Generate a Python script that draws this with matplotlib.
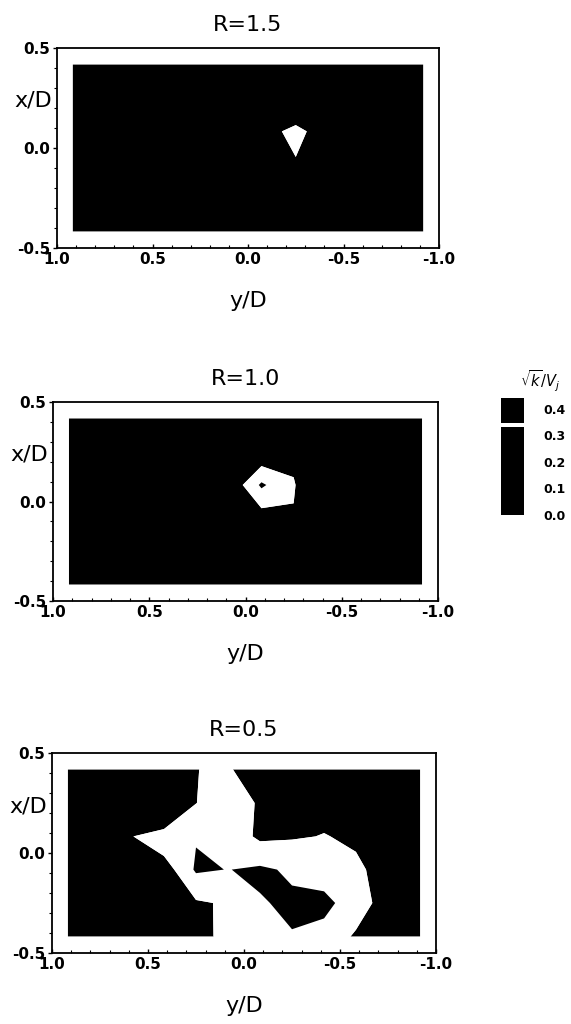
import matplotlib
matplotlib.use("Agg")
import matplotlib.pyplot as plt
from matplotlib.ticker import MultipleLocator, FormatStrFormatter

plt.rcParams["font.family"] = ["DejaVu Sans"]
plt.rcParams["axes.unicode_minus"] = False

# Measurement grid: spanwise stations y/D (columns) and streamwise stations x/D (rows)
y_nodes = [0.917, 0.75, 0.583, 0.417, 0.25, 0.083, -0.083, -0.25, -0.417, -0.583, -0.75, -0.917]
x_nodes = [0.417, 0.25, 0.083, -0.083, -0.25, -0.417]

# sqrt(k)/Vj at each station, rows follow x_nodes, columns follow y_nodes
k_r15 = [
    [0.30, 0.30, 0.30, 0.30, 0.30, 0.30, 0.30, 0.30, 0.30, 0.30, 0.30, 0.30],
    [0.30, 0.30, 0.30, 0.30, 0.30, 0.30, 0.30, 0.287, 0.30, 0.30, 0.30, 0.30],
    [0.30, 0.30, 0.30, 0.30, 0.30, 0.30, 0.317, 0.34, 0.311, 0.30, 0.30, 0.30],
    [0.30, 0.30, 0.30, 0.30, 0.30, 0.30, 0.30, 0.327, 0.30, 0.30, 0.30, 0.30],
    [0.30, 0.30, 0.30, 0.30, 0.30, 0.30, 0.30, 0.30, 0.30, 0.30, 0.30, 0.30],
    [0.30, 0.30, 0.30, 0.30, 0.30, 0.30, 0.30, 0.30, 0.30, 0.30, 0.30, 0.30],
]
k_r10 = [
    [0.30, 0.30, 0.30, 0.30, 0.30, 0.30, 0.30, 0.30, 0.30, 0.30, 0.30, 0.30],
    [0.30, 0.30, 0.30, 0.30, 0.30, 0.30, 0.3167, 0.3267, 0.30, 0.30, 0.30, 0.30],
    [0.30, 0.30, 0.30, 0.30, 0.30, 0.3177, 0.3475, 0.331, 0.3143, 0.30, 0.30, 0.30],
    [0.30, 0.30, 0.30, 0.30, 0.30, 0.30, 0.3226, 0.3292, 0.30, 0.30, 0.30, 0.30],
    [0.30, 0.30, 0.30, 0.30, 0.30, 0.30, 0.30, 0.30, 0.30, 0.30, 0.30, 0.30],
    [0.30, 0.30, 0.30, 0.30, 0.30, 0.30, 0.30, 0.30, 0.30, 0.30, 0.30, 0.30],
]
k_r05 = [
    [0.30, 0.30, 0.30, 0.30, 0.3289, 0.34, 0.276, 0.30, 0.30, 0.30, 0.30, 0.30],
    [0.30, 0.30, 0.30, 0.289, 0.3297, 0.34, 0.328, 0.30, 0.3255, 0.30, 0.30, 0.30],
    [0.30, 0.30, 0.3295, 0.3415, 0.344, 0.34, 0.327, 0.3286, 0.3305, 0.328, 0.30, 0.30],
    [0.30, 0.30, 0.30, 0.322, 0.347, 0.3447, 0.3473, 0.343, 0.3394, 0.3323, 0.325, 0.30],
    [0.30, 0.30, 0.30, 0.30, 0.3283, 0.3315, 0.344, 0.3472, 0.348, 0.3394, 0.321, 0.30],
    [0.30, 0.30, 0.30, 0.30, 0.318, 0.34, 0.34, 0.3444, 0.3415, 0.3277, 0.30, 0.30],
]

titles = ["R=1.5", "R=1.0", "R=0.5"]
fields = [k_r15, k_r10, k_r05]

# contour levels: only the 0.33-0.345 band is left white
levels = [0.0, 0.33, 0.345, 0.44]
band_colors = ["black", "white", "black"]
cbar_ticks = [0.0, 0.1, 0.2, 0.3, 0.4]

W, H = 571, 1024
fig = plt.figure(figsize=(W / 100, H / 100), dpi=100)

# axes boxes in pixels: left, top, right, bottom
boxes = [(57, 48, 439, 248), (53, 402, 438, 601), (52, 753, 436, 953)]

cs_main = None
for (l, t, r, b), title, field in zip(boxes, titles, fields):
    ax = fig.add_axes([l / W, 1 - b / H, (r - l) / W, (b - t) / H])
    cs = ax.contourf(y_nodes, x_nodes, field, levels=levels, colors=band_colors,
                     antialiased=True)
    if title == "R=1.0":
        cs_main = cs
    ax.set_xlim(1.0, -1.0)
    ax.set_ylim(-0.5, 0.5)
    ax.xaxis.set_major_locator(MultipleLocator(0.5))
    ax.xaxis.set_minor_locator(MultipleLocator(0.1))
    ax.yaxis.set_major_locator(MultipleLocator(0.5))
    ax.yaxis.set_minor_locator(MultipleLocator(0.1))
    ax.xaxis.set_major_formatter(FormatStrFormatter("%.1f"))
    ax.yaxis.set_major_formatter(FormatStrFormatter("%.1f"))
    ax.tick_params(axis="x", which="major", direction="in", length=3, width=1, pad=3,
                   labelsize=11)
    ax.tick_params(axis="x", which="minor", direction="in", length=2, width=0.8)
    ax.tick_params(axis="y", which="major", direction="out", length=3, width=1, pad=2,
                   labelsize=11)
    ax.tick_params(axis="y", which="minor", direction="out", length=2, width=0.8)
    for lab in ax.get_xticklabels() + ax.get_yticklabels():
        lab.set_fontweight("bold")
    for s in ax.spines.values():
        s.set_linewidth(1.3)
    ax.set_title(title, fontsize=16, pad=12)
    ax.set_xlabel("y/D", fontsize=16)
    ax.xaxis.set_label_coords(0.5, -0.215)
    ax.text(-0.012, 0.735, "x/D", transform=ax.transAxes, ha="right", va="center",
            fontsize=16)

# colour key
cax = fig.add_axes([501 / W, 1 - 515 / H, 23 / W, 117 / H])
cbar = fig.colorbar(cs_main, cax=cax, spacing="proportional", ticks=cbar_ticks)
cbar.outline.set_visible(False)
cbar.ax.yaxis.set_major_formatter(FormatStrFormatter("%.1f"))
cbar.ax.tick_params(length=0, pad=14, labelsize=9)
for lab in cbar.ax.get_yticklabels():
    lab.set_fontweight("bold")
fig.text(540 / W, 1 - 381 / H, r"$\sqrt{k}/V_j$", ha="center", va="center", fontsize=10.5)

fig.savefig("out.png", dpi=100)
